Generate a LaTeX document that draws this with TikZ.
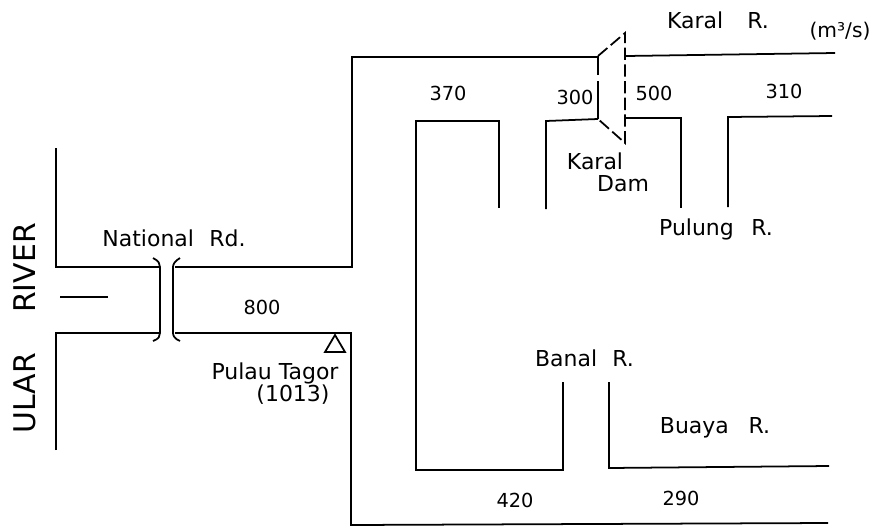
\documentclass[tikz,border=0pt]{standalone}
\usepackage{fontspec}
\setmainfont{DejaVu Sans}
\usepackage{xcolor}
\usetikzlibrary{arrows.meta,positioning}
\tikzset{
  bankline/.style={black,line width=1pt,line join=miter},
  damline/.style={bankline,dash pattern=on 7pt off 2.5pt},
  maplabel/.style={inner sep=0pt,font=\fontsize{12.5}{14}\selectfont},
  flowlabel/.style={inner sep=0pt,font=\fontsize{11}{12}\selectfont},
  riverlabel/.style={inner sep=0pt,rotate=90,font=\fontsize{17}{18}\selectfont},
}
\begin{document}
\begin{tikzpicture}
  \useasboundingbox (0,0) rectangle (17.50,10.58);
  % main river banks
  \draw[bankline] (1.12,7.62) -- (1.12,5.24) -- (3.20,5.24);
  \draw[bankline] (3.50,5.24) -- (7.04,5.24) -- (7.04,9.44) -- (11.96,9.44);
  \draw[bankline] (12.52,9.46) -- (16.70,9.52);
  \draw[bankline] (1.12,1.58) -- (1.12,3.92) -- (3.20,3.92);
  \draw[bankline] (3.50,3.92) -- (7.02,3.92) -- (7.02,0.08) -- (16.56,0.12);
  % tributaries
  \draw[bankline] (9.98,6.42) -- (9.98,8.16) -- (8.32,8.16) -- (8.32,1.18) -- (11.26,1.18) -- (11.26,2.94);
  \draw[bankline] (10.92,6.40) -- (10.92,8.16) -- (11.96,8.20);
  \draw[bankline] (12.52,8.22) -- (13.62,8.22) -- (13.62,6.42);
  \draw[bankline] (14.56,6.44) -- (14.56,8.24) -- (16.64,8.26);
  \draw[bankline] (12.18,2.94) -- (12.18,1.22) -- (16.58,1.26);
  % dam
  \draw[damline] (11.96,9.46) -- (12.50,9.92) -- (12.50,7.72) -- (11.96,8.20);
  \draw[bankline] (11.96,8.20) -- (11.96,8.96);
  \draw[bankline] (11.96,9.08) -- (11.96,9.46);
  % national road bridge
  \draw[bankline] (3.06,5.42) .. controls (3.18,5.36) and (3.20,5.30) .. (3.20,5.24) -- (3.20,3.92) .. controls (3.20,3.86) and (3.18,3.80) .. (3.06,3.76);
  \draw[bankline] (3.60,5.42) .. controls (3.50,5.36) and (3.46,5.30) .. (3.46,5.24) -- (3.46,3.92) .. controls (3.46,3.86) and (3.50,3.80) .. (3.60,3.76);
  % flow direction
  \draw[bankline,line width=0.7pt] (1.20,4.64) -- (2.16,4.64);
  % gauging station
  \draw[bankline] (6.70,3.88) -- (6.90,3.54) -- (6.50,3.54) -- cycle;
  % labels
  \node[riverlabel] (nRiver) at (0.50,5.22) {RIVER};
  \node[riverlabel] (nUlar) at (0.50,2.72) {ULAR};
  \node[maplabel] (nNational) at (3.48,5.82) {National\hspace{0.7em}Rd.};
  \node[flowlabel] (nMain) at (5.24,4.44) {800};
  \node[maplabel] (nStation) at (5.50,3.12) {Pulau Tagor};
  \node[maplabel] (nGauge) at (5.86,2.68) {(1013)};
  \node[maplabel] (nKaral) at (14.36,10.18) {Karal\hspace{1.1em}R.};
  \node[flowlabel,font=\fontsize{11.5}{13}\selectfont] (nUnit) at (16.80,9.96) {(m³/s)};
  \node[flowlabel] (nUp) at (8.96,8.72) {370};
  \node[flowlabel] (nDamL) at (11.50,8.64) {300};
  \node[flowlabel] (nDamR) at (13.08,8.72) {500};
  \node[flowlabel] (nPulungQ) at (15.68,8.76) {310};
  \node[maplabel] (nDam) at (11.90,7.36) {Karal};
  \node[maplabel] (nDamB) at (12.46,6.90) {Dam};
  \node[maplabel] (nPulung) at (14.32,6.00) {Pulung\hspace{0.8em}R.};
  \node[maplabel] (nBanal) at (11.69,3.42) {Banal\hspace{0.7em}R.};
  \node[maplabel] (nBuaya) at (14.30,2.02) {Buaya\hspace{0.9em}R.};
  \node[flowlabel] (nLow) at (10.30,0.58) {420};
  \node[flowlabel] (nBuayaQ) at (13.62,0.62) {290};
\end{tikzpicture}
\end{document}
